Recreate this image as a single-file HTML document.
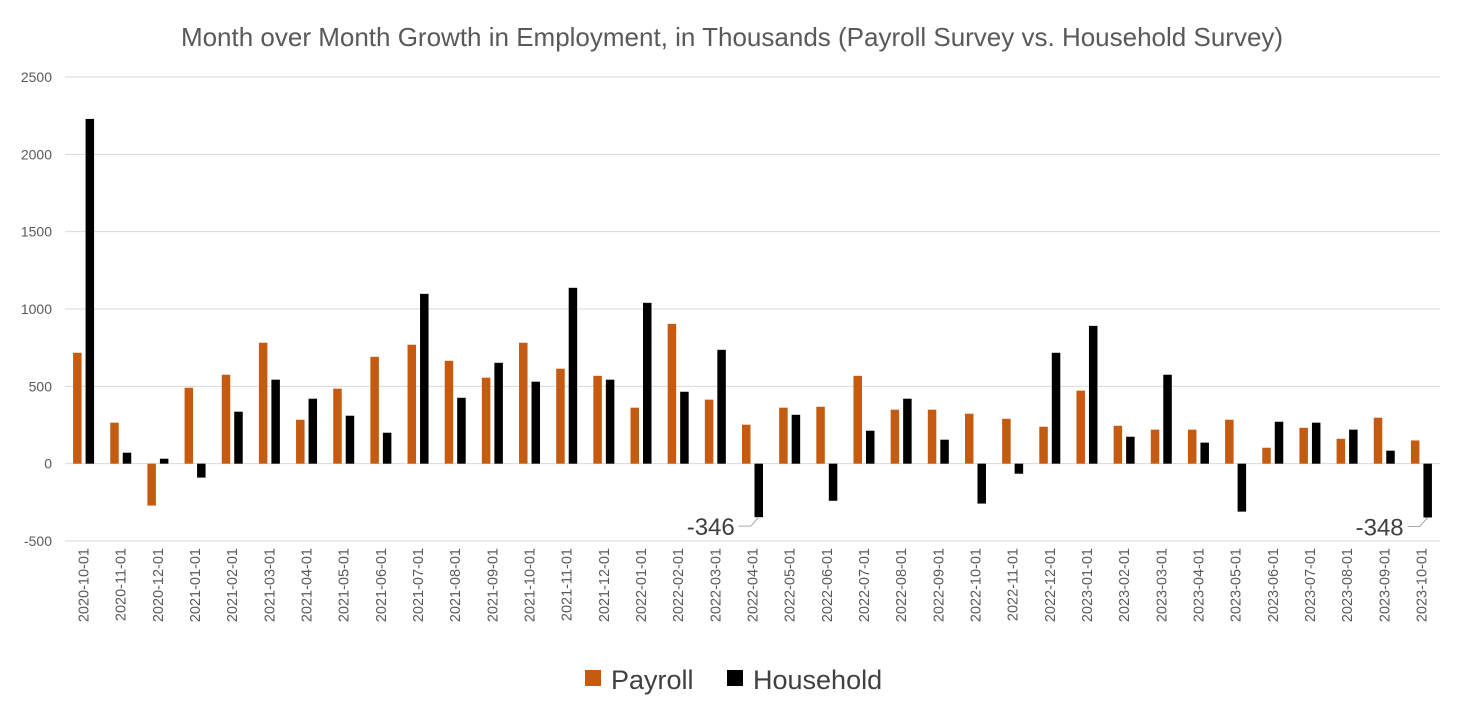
<!DOCTYPE html>
<html><head><meta charset="utf-8"><style>
body{margin:0;background:#fff;}
svg{display:block;font-family:"Liberation Sans",sans-serif;}
</style></head><body>
<svg id="chart" width="1464" height="717">
<text x="732" y="46" text-anchor="middle" font-size="26" fill="#595959">Month over Month Growth in Employment, in Thousands (Payroll Survey vs. Household Survey)</text>
<g id="grid"></g><g id="bars"></g><g id="xlabels"></g><g id="ann"></g>
<g>
<rect x="585" y="670" width="16" height="16" fill="#c55a11"/>
<text x="611" y="689" font-size="27" fill="#404040">Payroll</text>
<rect x="727" y="670" width="16" height="16" fill="#000"/>
<text x="753" y="689" font-size="27" fill="#404040">Household</text>
</g>
</svg>
<script>
const categories=["2020-10-01","2020-11-01","2020-12-01","2021-01-01","2021-02-01","2021-03-01","2021-04-01","2021-05-01","2021-06-01","2021-07-01","2021-08-01","2021-09-01","2021-10-01","2021-11-01","2021-12-01","2022-01-01","2022-02-01","2022-03-01","2022-04-01","2022-05-01","2022-06-01","2022-07-01","2022-08-01","2022-09-01","2022-10-01","2022-11-01","2022-12-01","2023-01-01","2023-02-01","2023-03-01","2023-04-01","2023-05-01","2023-06-01","2023-07-01","2023-08-01","2023-09-01","2023-10-01"];
const payroll=[717,265,-271,491,575,782,284,485,691,769,665,556,782,614,568,362,904,414,252,362,368,568,349,349,323,290,239,472,245,220,220,284,103,232,161,297,150];
const household=[2229,71,32,-90,336,543,420,310,200,1098,426,652,530,1137,543,1040,465,736,-346,316,-240,213,420,155,-258,-65,717,891,174,575,136,-310,271,265,220,84,-348];
const yTicks=[-500,0,500,1000,1500,2000,2500];
const labeled=[{i:18,text:"-346"},{i:36,text:"-348"}];
const NS="http://www.w3.org/2000/svg";
const x0=65,x1=1440,yTop=77,yBot=541,vMin=-500,vMax=2500;
const y=v=>yTop+(vMax-v)/(vMax-vMin)*(yBot-yTop);
const cw=(x1-x0)/categories.length;
const cx=i=>x0+cw*(i+0.5);
function mk(t,a,p){const e=document.createElementNS(NS,t);for(const k in a)e.setAttribute(k,a[k]);p.appendChild(e);return e;}
const grid=document.getElementById('grid');
yTicks.forEach(v=>{
 const l=mk('line',{x1:x0,x2:x1,y1:y(v),y2:y(v),stroke:'#d9d9d9','stroke-width':1},grid);
 
 
 const t=mk('text',{x:52,y:y(v)+5,'text-anchor':'end','font-size':14,fill:'#595959'},grid);
 t.textContent=v;
 
 
});
const bars=document.getElementById('bars');const bw=8.5;
categories.forEach((c,i)=>{
 [[payroll[i],'#c55a11',-bw-2,'payroll'],[household[i],'#000',2,'household']].forEach(([v,col,off,n])=>{
  const top=Math.min(y(v),y(0)),h=Math.abs(y(v)-y(0));
  const r=mk('rect',{x:cx(i)+off,y:top,width:bw,height:h,fill:col},bars);
  
  
 });
 const t=mk('text',{transform:`translate(${cx(i)+5},${548}) rotate(-90)`,'text-anchor':'end','font-size':14.5,fill:'#595959'},document.getElementById('xlabels'));
 t.textContent=c;
 
 
});
const ann=document.getElementById('ann');
labeled.forEach(a=>{
 const bx=cx(a.i)+2+bw/2,by=y(household[a.i]);
 const p=mk('polyline',{points:`${bx},${by} ${bx-8},${by+9} ${bx-20},${by+9}`,fill:'none',stroke:'#a6a6a6','stroke-width':1},ann);
 
 
 const t=mk('text',{x:bx-24,y:by+18,'text-anchor':'end','font-size':24,fill:'#404040'},ann);
 t.textContent=a.text;
 
 
});
</script>
</body></html>
